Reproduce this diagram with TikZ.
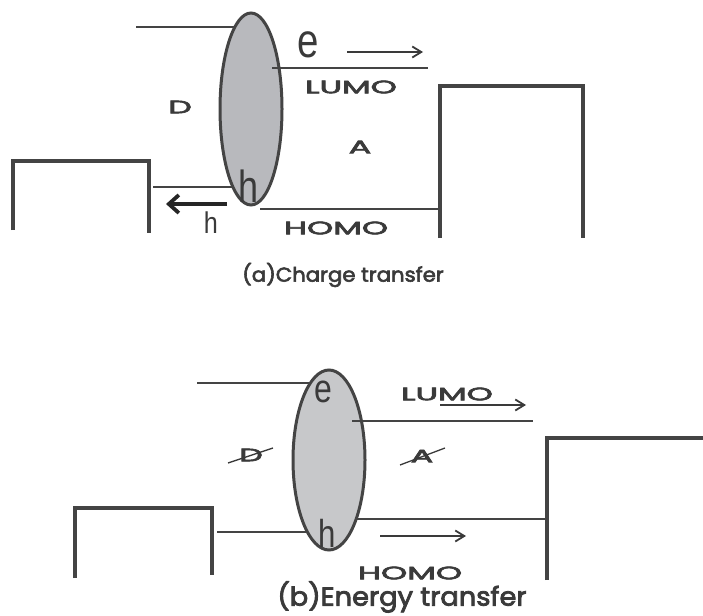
\documentclass[tikz,border=0pt]{standalone}
\usepackage{fontspec}
\setmainfont{Poppins}
\newfontfamily\lblfont[FakeBold=3]{Poppins}
\newfontfamily\glyphfont{Liberation Sans}
\usetikzlibrary{arrows.meta}
\definecolor{ln}{HTML}{444444}
\definecolor{txt}{HTML}{3A3A3A}
\definecolor{blobfill}{HTML}{B8B9BD}
\definecolor{blobfillb}{HTML}{C7C8CA}
\begin{document}
\begin{tikzpicture}[x=1pt,y=-1pt,
  level/.style={draw=ln, line width=2.8pt},
  wall/.style={draw=ln, line width=3.5pt},
  blob/.style={draw=ln, fill=blobfill, line width=3pt},
  thinarrow/.style={draw=txt, line width=1.8pt, -{Straight Barb[length=9pt,width=11pt,line width=1.8pt]}},
  thickarrow/.style={draw=black!85, line width=3.8pt, -{Straight Barb[length=10pt,width=18pt]}},
  lbl/.style={text=txt, inner sep=0pt, font=\lblfont\fontsize{18}{18}\selectfont, xscale=1.85},
  captext/.style={text=txt, inner sep=0pt, font=\lblfont\fontsize{20}{20}\selectfont, xscale=1.06},
  carrier/.style={text=txt, inner sep=0pt, font=\glyphfont\fontsize{#1}{#1}\selectfont, xscale=0.8}
]
\useasboundingbox (0,0) rectangle (703,615);

% ---------------- (a) Charge transfer ----------------
\draw[blob] (251,109) ellipse [x radius=31, y radius=96];
\coordinate (a1) at (136,27);   \coordinate (a2) at (235,27);
\coordinate (a3) at (272,68);   \coordinate (a4) at (428,68);
\coordinate (a5) at (153,187);  \coordinate (a6) at (233,187);
\coordinate (a7) at (260,209);  \coordinate (a8) at (440,209);
\draw[level] (a1) -- (a2);
\draw[level] (a3) -- (a4);
\draw[level] (a5) -- (a6);
\draw[level] (a7) -- (a8);
\draw[wall] (13,230) -- (13,161) -- (149,161) -- (149,233);
\draw[wall] (440,238) -- (440,86) -- (583,86) -- (583,238);
\coordinate (ae1) at (347,52); \coordinate (ae2) at (423,52);
\draw[thinarrow] (ae1) -- (ae2);
\coordinate (ah1) at (227,204); \coordinate (ah2) at (166,204);
\draw[thickarrow] (ah1) -- (ah2);
\node[carrier=48] (ea) at (308,45) {e};
\node[carrier=45] (ha) at (249,186) {h};
\node[carrier=30,xscale=1.05] (hb) at (211,223) {h};
\node[lbl] (lumoa) at (351,87) {LUMO};
\node[lbl] (homoa) at (336,228) {HOMO};
\node[lbl] (da) at (180,107) {D};
\node[lbl] (aa) at (360,147) {A};
\node[captext] (capa) at (343,275) {(a)Charge transfer};

% ---------------- (b) Energy transfer ----------------
\draw[blob, fill=blobfillb] (329,460) ellipse [x radius=36, y radius=90];
\coordinate (b1) at (197,383);  \coordinate (b2) at (310,383);
\coordinate (b3) at (352,421);  \coordinate (b4) at (533,421);
\coordinate (b5) at (217,532);  \coordinate (b6) at (308,532);
\coordinate (b7) at (357,519);  \coordinate (b8) at (547,519);
\draw[level] (b1) -- (b2);
\draw[level] (b3) -- (b4);
\draw[level] (b5) -- (b6);
\draw[level] (b7) -- (b8);
\draw[wall] (75,578) -- (75,508) -- (212,508) -- (212,575);
\draw[wall] (547,580) -- (547,438) -- (703,438);
\coordinate (bl1) at (440,405); \coordinate (bl2) at (526,405);
\draw[thinarrow] (bl1) -- (bl2);
\coordinate (bh1) at (380,536); \coordinate (bh2) at (466,536);
\draw[thinarrow] (bh1) -- (bh2);
\node[carrier=40] (eb) at (323,392) {e};
\node[carrier=39] (hb2) at (327,533) {h};
\node[lbl] (lumob) at (447,394) {LUMO};
\node[lbl] (homob) at (410,573) {HOMO};
\node[lbl] (db) at (251,455) {D};
\node[lbl] (ab) at (422,456) {A};
\coordinate (sd1) at (228,463); \coordinate (sd2) at (273,448);
\draw[draw=txt, line width=1.3pt] (sd1) -- (sd2);
\coordinate (sa1) at (400,465); \coordinate (sa2) at (445,448);
\draw[draw=txt, line width=1.3pt] (sa1) -- (sa2);
\node[captext, font=\lblfont\fontsize{26}{26}\selectfont, xscale=0.99] (capb) at (402,597) {(b)Energy transfer};
\end{tikzpicture}
\end{document}
